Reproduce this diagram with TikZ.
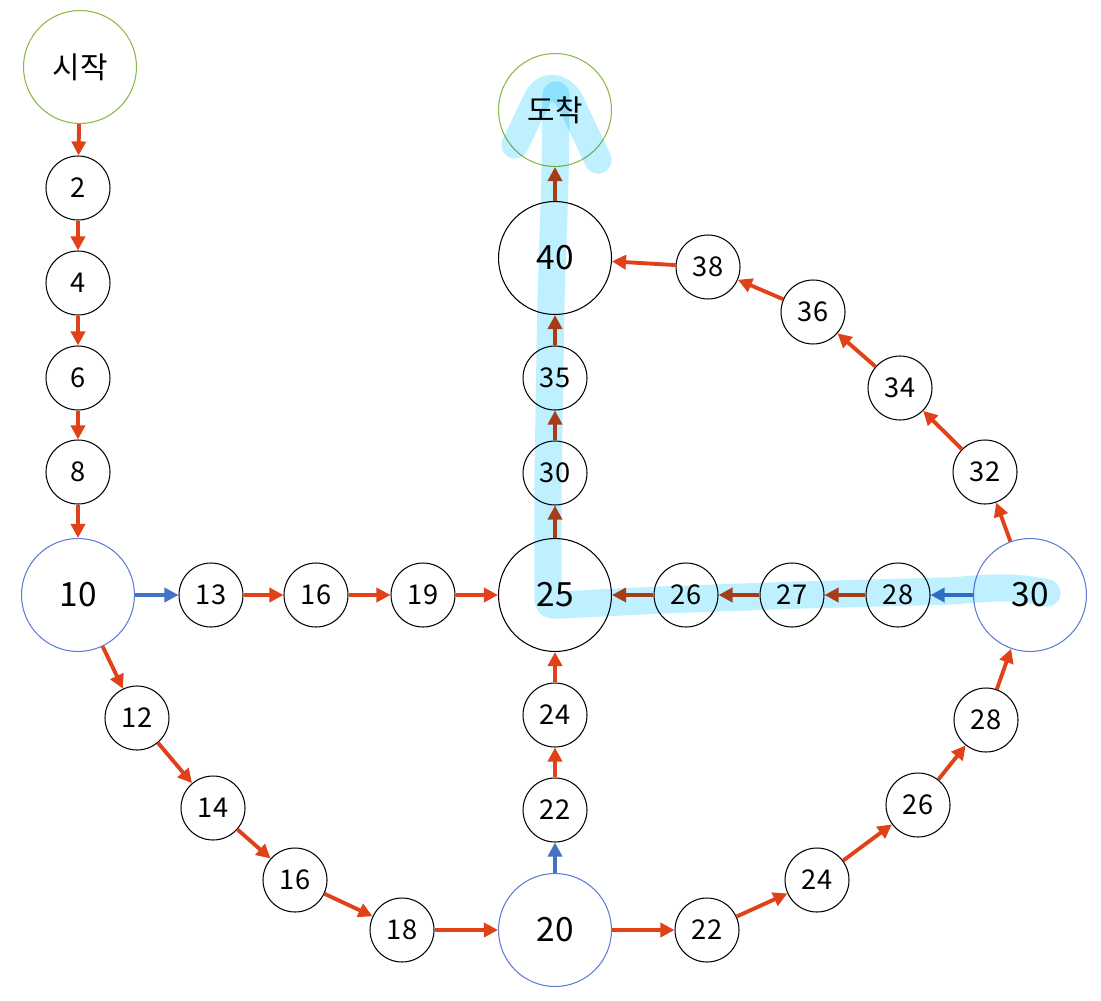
\documentclass[tikz,border=0pt]{standalone}
\usepackage{fontspec}
\setmainfont{Noto Sans CJK KR}
\usepackage{xcolor}
\usetikzlibrary{arrows.meta}

\definecolor{edgered}{RGB}{224,65,25}
\definecolor{edgeblue}{RGB}{68,114,196}
\definecolor{endgreen}{RGB}{140,185,75}
\definecolor{hubblue}{RGB}{95,125,215}
\definecolor{marker}{RGB}{190,240,255}

\begin{document}
\begin{tikzpicture}[x=0.02cm,y=-0.02cm,
    station/.style={circle, draw, line width=0.6pt, minimum size=1.28cm, inner sep=0pt, font=\fontsize{15.5}{18}\selectfont},
    bigstation/.style={circle, draw, line width=0.6pt, minimum size=2.26cm, inner sep=0pt, font=\fontsize{19}{22}\selectfont},
    hubstation/.style={bigstation, draw=hubblue},
    endstation/.style={bigstation, draw=endgreen, font=\fontsize{17}{20}\selectfont},
    redline/.style={draw=edgered, line width=2.2pt, -{Triangle[length=8pt,width=8pt]}},
    blueline/.style={redline, draw=edgeblue},
    markline/.style={draw=marker, line width=15.5pt, line cap=round, line join=round}]
      % \draw[help lines, gray!50, very thin] (0,0) grid[step=50] (1101,1000);
      \useasboundingbox (0,0) rectangle (1101,1000);

      \node[endstation] (start) at (80,67) {시작};
      \node[endstation] (goal) at (555,110) {도착};

      \node[station] (a2) at (78,188) {2};
      \node[station] (a4) at (78,283) {4};
      \node[station] (a6) at (78,378) {6};
      \node[station] (a8) at (78,472) {8};
      \node[hubstation] (h10) at (78,595) {10};

      \node[station] (b13) at (211,595) {13};
      \node[station] (b16) at (316,595) {16};
      \node[station] (b19) at (423,595) {19};
      \node[bigstation] (c25) at (555,595) {25};

      \node[station] (d12) at (137,718) {12};
      \node[station] (d14) at (213,808) {14};
      \node[station] (d16) at (295,880) {16};
      \node[station] (d18) at (402,930) {18};
      \node[hubstation] (h20) at (555,930) {20};

      \node[station] (e22) at (555,810) {22};
      \node[station] (e24) at (555,715) {24};

      \node[station] (f22) at (707,930) {22};
      \node[station] (f24) at (817,880) {24};
      \node[station] (f26) at (918,805) {26};
      \node[station] (f28) at (986,720) {28};
      \node[hubstation] (h30) at (1030,595) {30};

      \node[station] (g28) at (898,595) {28};
      \node[station] (g27) at (792,595) {27};
      \node[station] (g26) at (686,595) {26};

      \node[station] (k30) at (555,473) {30};
      \node[station] (k35) at (555,378) {35};
      \node[bigstation] (k40) at (555,258) {40};

      \node[station] (m32) at (985,472) {32};
      \node[station] (m34) at (900,388) {34};
      \node[station] (m36) at (813,312) {36};
      \node[station] (m38) at (708,267) {38};

      \draw[redline] (start) -- (a2);
      \draw[redline] (a2) -- (a4);
      \draw[redline] (a4) -- (a6);
      \draw[redline] (a6) -- (a8);
      \draw[redline] (a8) -- (h10);

      \draw[blueline] (h10) -- (b13);
      \draw[redline] (b13) -- (b16);
      \draw[redline] (b16) -- (b19);
      \draw[redline] (b19) -- (c25);

      \draw[redline] (h10) -- (d12);
      \draw[redline] (d12) -- (d14);
      \draw[redline] (d14) -- (d16);
      \draw[redline] (d16) -- (d18);
      \draw[redline] (d18) -- (h20);

      \draw[blueline] (h20) -- (e22);
      \draw[redline] (e22) -- (e24);
      \draw[redline] (e24) -- (c25);

      \draw[redline] (h20) -- (f22);
      \draw[redline] (f22) -- (f24);
      \draw[redline] (f24) -- (f26);
      \draw[redline] (f26) -- (f28);
      \draw[redline] (f28) -- (h30);

      \draw[blueline] (h30) -- (g28);
      \draw[redline] (g28) -- (g27);
      \draw[redline] (g27) -- (g26);
      \draw[redline] (g26) -- (c25);

      \draw[redline] (c25) -- (k30);
      \draw[redline] (k30) -- (k35);
      \draw[redline] (k35) -- (k40);
      \draw[redline] (k40) -- (goal);

      \draw[redline] (h30) -- (m32);
      \draw[redline] (m32) -- (m34);
      \draw[redline] (m34) -- (m36);
      \draw[redline] (m36) -- (m38);
      \draw[redline] (m38) -- (k40);

      \begin{scope}[blend mode=multiply]
        \draw[markline] (1047,593) .. controls (1010,585) and (990,588) .. (950,591)
          -- (800,595) -- (660,600) -- (560,605) .. controls (548,605) .. (548,595)
          -- (548,480) -- (551,300) -- (555,180) -- (556,95);
        \draw[markline] (515,145) -- (538,97) .. controls (548,82) and (565,88) .. (572,105) -- (598,160);
      \end{scope}
    \end{tikzpicture}
\end{document}
